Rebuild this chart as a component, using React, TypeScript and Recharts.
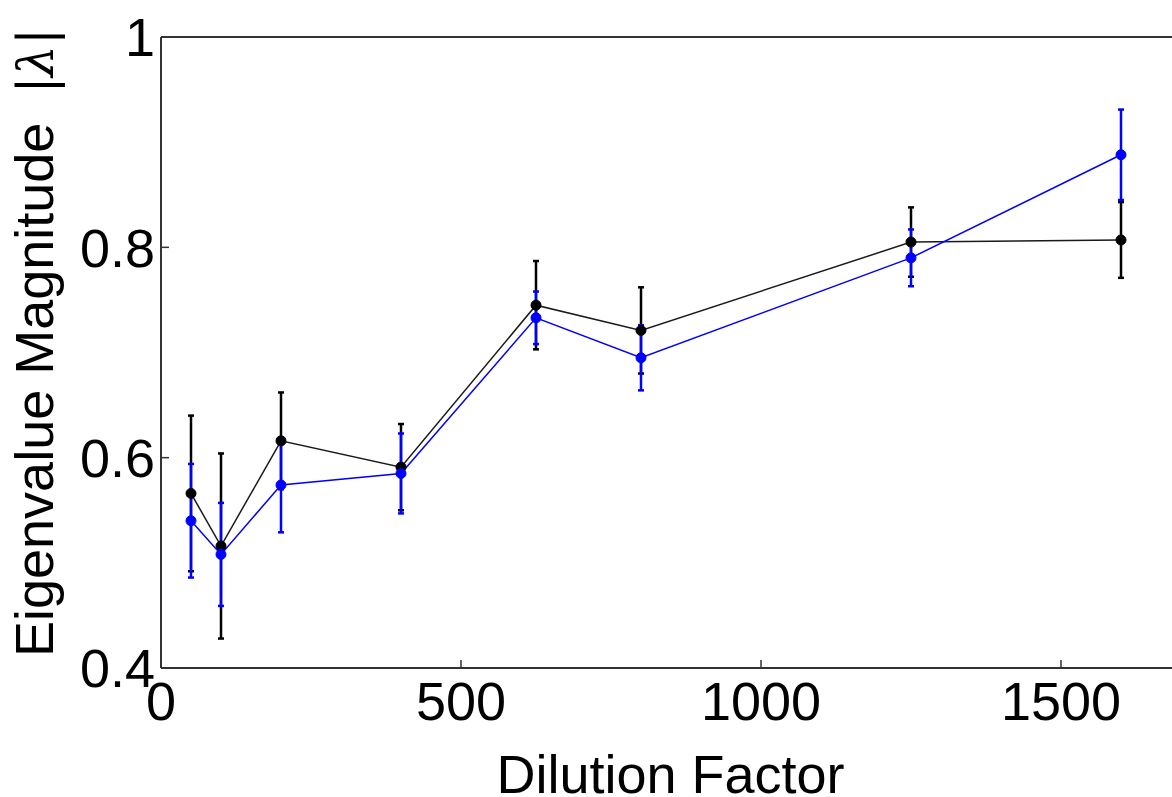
import React from "react";
import { LineChart, Line, XAxis, YAxis, ErrorBar, ReferenceLine } from "recharts";

// dilution factors on the x axis
const dilution = [50, 100, 200, 400, 625, 800, 1250, 1600];
// black series (mean and half error)
const blackMean = [0.566, 0.516, 0.616, 0.591, 0.745, 0.721, 0.805, 0.807];
const blackErr = [0.074, 0.088, 0.046, 0.041, 0.042, 0.041, 0.033, 0.036];
// blue series
const blueMean = [0.54, 0.508, 0.574, 0.585, 0.733, 0.695, 0.79, 0.888];
const blueErr = [0.054, 0.049, 0.045, 0.038, 0.025, 0.031, 0.027, 0.043];

const xTicks = [0, 500, 1000, 1500];
const yTicks = [0.4, 0.6, 0.8, 1];
const yTickLabels = ["0.4", "0.6", "0.8", "1"];

const rows = dilution.map((d, i) => ({
  x: d,
  black: blackMean[i],
  blackErr: blackErr[i],
  blue: blueMean[i],
  blueErr: blueErr[i],
}));

const FONT = "'Liberation Sans', Arial, sans-serif";
const AXIS = "#333";
const Y_MARGIN = 6;
const X_MARGIN = 14;

const YTick = (props: any) => {
  const { x, y, payload } = props;
  const i = yTicks.indexOf(payload.value);
  return (
    <g>
      <line x1={x + Y_MARGIN} x2={x + Y_MARGIN + 8} y1={y} y2={y} stroke={AXIS} strokeWidth={1.5} />
      <text x={x} y={y} dy="0.355em" textAnchor="end" fontSize={54} fontFamily={FONT} fill="#000">
        {i >= 0 ? yTickLabels[i] : payload.value}
      </text>
    </g>
  );
};

const XTick = (props: any) => {
  const { x, y, payload } = props;
  return (
    <g>
      <line x1={x} x2={x} y1={y - X_MARGIN} y2={y - X_MARGIN - 8} stroke={AXIS} strokeWidth={1.5} />
      <text x={x} y={y} dy="0.71em" textAnchor="middle" fontSize={54} fontFamily={FONT} fill="#000">
        {payload.value}
      </text>
    </g>
  );
};

const YTitle = () => (
  <text
    x={53}
    y={657}
    transform="rotate(-90 53 657)"
    fontSize={54}
    fontFamily={FONT}
    fill="#000"
  >
    Eigenvalue Magnitude{" "}
    <tspan dx={14} fontFamily="'DejaVu Serif', 'Liberation Serif', serif" fontSize={50}>|</tspan>
    <tspan fontFamily="'DejaVu Serif', 'Liberation Serif', serif" fontStyle="italic" fontSize={50}>λ</tspan>
    <tspan fontFamily="'DejaVu Serif', 'Liberation Serif', serif" fontSize={50}>|</tspan>
  </text>
);

export default function App() {
  return (
    <div style={{ position: "absolute", left: 0, top: 0, width: 1172, height: 797, background: "#fff" }}>
      <LineChart width={1172} height={797} data={rows} margin={{ top: 37, right: 0, bottom: 0, left: 0 }}>
        <XAxis
          dataKey="x"
          type="number"
          domain={[0, 1685]}
          ticks={xTicks}
          height={129}
          tickSize={0}
          tickMargin={X_MARGIN}
          tick={<XTick />}
          axisLine={{ stroke: AXIS, strokeWidth: 2 }}
          label={{ value: "Dilution Factor", position: "insideBottom", offset: 4, dx: 4, fontSize: 54, fontFamily: FONT, fill: "#000" }}
        />
        <YAxis
          type="number"
          domain={[0.4, 1]}
          ticks={yTicks}
          width={161}
          tickSize={0}
          tickMargin={Y_MARGIN}
          tick={<YTick />}
          axisLine={{ stroke: AXIS, strokeWidth: 2 }}
          label={{ content: () => <YTitle /> }}
        />
        <ReferenceLine y={1} stroke={AXIS} strokeWidth={2} />
        <Line
          dataKey="black"
          stroke="#1a1a1a"
          strokeWidth={1.5}
          dot={{ r: 5, fill: "#000", stroke: "#000", strokeWidth: 1 }}
          isAnimationActive={false}
        >
          <ErrorBar dataKey="blackErr" direction="y" stroke="#000" strokeWidth={2.5} width={3} />
        </Line>
        <Line
          dataKey="blue"
          stroke="#0000ff"
          strokeWidth={1.5}
          dot={{ r: 5, fill: "#0000ff", stroke: "#0000ff", strokeWidth: 1 }}
          isAnimationActive={false}
        >
          <ErrorBar dataKey="blueErr" direction="y" stroke="#0000ff" strokeWidth={2.5} width={3} />
        </Line>
      </LineChart>
    </div>
  );
}
